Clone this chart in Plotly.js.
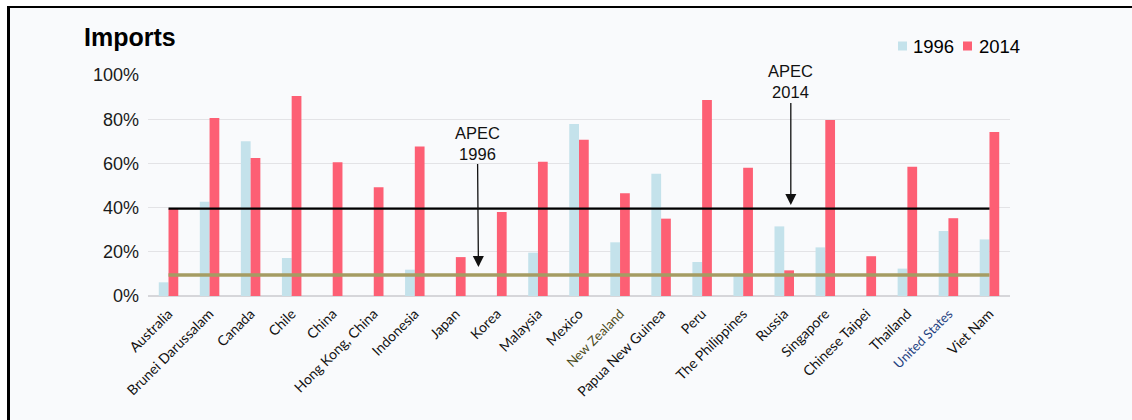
<!DOCTYPE html>
<html>
<head>
<meta charset="utf-8">
<script src="https://cdn.plot.ly/plotly-3.0.1.min.js"></script>
<style>
  html, body { margin: 0; padding: 0; background: #ffffff; }
  body { width: 1132px; height: 420px; position: relative; overflow: hidden; }
  #frame {
    position: absolute; left: 7px; top: 6px; width: 1125px; height: 414px;
    border-top: 2px solid #000; border-left: 3px solid #000;
    background: #f9fafc; box-sizing: border-box;
  }
  #chart { position: absolute; left: 0; top: 0; width: 1132px; height: 420px; }
</style>
</head>
<body>
<div id="frame"></div>
<div id="chart"></div>
<script>
// Share of imports by economy, 1996 vs 2014 (%)
const economies = [
  "Australia", "Brunei Darussalam", "Canada", "Chile", "China", "Hong Kong, China",
  "Indonesia", "Japan", "Korea", "Malaysia", "Mexico", "New Zealand",
  "Papua New Guinea", "Peru", "The Philippines", "Russia", "Singapore",
  "Chinese Taipei", "Thailand", "United States", "Viet Nam"
];
const imports1996 = [6.2, 42.7, 70.0, 17.2, 0, 0, 11.9, 0, 0, 19.6, 77.8, 24.3,
                     55.3, 15.4, 9.0, 31.5, 22.0, 0, 12.4, 29.4, 25.6];
const imports2014 = [39.5, 80.5, 62.4, 90.5, 60.5, 49.2, 67.7, 17.6, 38.0, 60.8, 70.7, 46.5,
                     35.0, 88.7, 58.0, 11.6, 79.6, 18.0, 58.5, 35.2, 74.2];
const apecAverage = { y1996: 9.5, y2014: 39.5 };
const yTicks = [0, 20, 40, 60, 80, 100];
const yTickLabels = ["0%", "20%", "40%", "60%", "80%", "100%"];

const c1996 = "#c4e2eb";
const c2014 = "#fd5f74";

// Economies whose axis labels use their own colour
const labelColours = { "New Zealand": "#4b4a20", "United States": "#1f4180" };
const tickText = economies.map(e =>
  labelColours[e] ? `<span style="color:${labelColours[e]};font-size:13px">${e}</span>` : e);

const ends = [economies[0], economies[economies.length - 1]];

const traces = [
  { type: "bar", name: "1996", x: economies, y: imports1996,
    marker: { color: c1996 }, showlegend: false, hoverinfo: "x+y+name" },
  { type: "bar", name: "2014", x: economies, y: imports2014,
    marker: { color: c2014 }, showlegend: false, hoverinfo: "x+y+name" },
  { type: "scatter", mode: "lines", name: "APEC 1996", x: ends,
    y: [apecAverage.y1996, apecAverage.y1996],
    line: { color: "#a59c63", width: 3.5 }, showlegend: false },
  { type: "scatter", mode: "lines", name: "APEC 2014", x: ends,
    y: [apecAverage.y2014, apecAverage.y2014],
    line: { color: "#000000", width: 2.2 }, showlegend: false }
];

const W = 1132;
const annoFont = { family: "Liberation Sans, Arial, sans-serif", size: 16.5, color: "#111" };

const layout = {
  width: W, height: 420,
  margin: { l: 148, r: 122, t: 75, b: 124 },
  paper_bgcolor: "rgba(0,0,0,0)",
  plot_bgcolor: "rgba(0,0,0,0)",
  barmode: "group",
  bargap: 0.525,
  bargroupgap: 0,
  showlegend: false,
  font: { family: "Liberation Sans, Arial, sans-serif", color: "#111" },
  title: {
    text: "<b>Imports</b>",
    font: { family: "Liberation Sans, Arial, sans-serif", size: 25, color: "#000" },
    x: 84 / W, xanchor: "left", xref: "container",
    y: 1 - 37 / 420, yanchor: "middle", yref: "container"
  },
  xaxis: {
    type: "category",
    tickmode: "array", tickvals: economies, ticktext: tickText,
    tickangle: -45,
    tickfont: { family: "Lato, sans-serif", size: 14, color: "#111" },
    showgrid: false, zeroline: false, showline: false, ticks: "",
    ticklabelstandoff: 6,
    fixedrange: true
  },
  yaxis: {
    range: [0, 100],
    tickmode: "array", tickvals: yTicks, ticktext: yTickLabels,
    tickfont: { family: "Liberation Sans, Arial, sans-serif", size: 18, color: "#1a1a1a" },
    showgrid: true, gridcolor: "#e3e3e6", gridwidth: 1,
    zeroline: true, zerolinecolor: "#d6d6da", zerolinewidth: 1.5,
    showline: false, ticks: "", ticklabelstandoff: 8,
    fixedrange: true
  },
  annotations: [
    { x: 7.55, y: 13.1, xref: "x", yref: "y", text: "APEC<br>1996",
      showarrow: true, arrowhead: 2, arrowsize: 1.7, arrowwidth: 1.3, arrowcolor: "#111",
      ax: -1, ay: -124, font: annoFont, align: "center" },
    { x: 15.16, y: 41.2, xref: "x", yref: "y", text: "APEC<br>2014",
      showarrow: true, arrowhead: 2, arrowsize: 1.7, arrowwidth: 1.3, arrowcolor: "#111",
      ax: 0, ay: -123, font: annoFont, align: "center" },
    // key
    { x: 911 / W, y: 1 - 46 / 420, xref: "paper", yref: "paper", text: "1996",
      showarrow: false, xanchor: "left", yanchor: "middle",
      font: { family: "Liberation Sans, Arial, sans-serif", size: 18.5, color: "#000" } },
    { x: 977 / W, y: 1 - 46 / 420, xref: "paper", yref: "paper", text: "2014",
      showarrow: false, xanchor: "left", yanchor: "middle",
      font: { family: "Liberation Sans, Arial, sans-serif", size: 18.5, color: "#000" } }
  ],
  shapes: []
};

// paper coords here refer to the plot area; convert page pixels into them
const plotL = 148, plotR = W - 122, plotT = 75, plotB = 420 - 124;
const px = x => (x - plotL) / (plotR - plotL);
const py = y => (plotB - y) / (plotB - plotT);
layout.annotations.slice(2).forEach(a => {
  a.x = px(a.x * W);
  a.y = py((1 - a.y) * 420);
});
layout.shapes.push(
  { type: "rect", xref: "paper", yref: "paper", x0: px(898), x1: px(907), y0: py(50.5), y1: py(41.5),
    fillcolor: c1996, line: { width: 0 } },
  { type: "rect", xref: "paper", yref: "paper", x0: px(963), x1: px(972), y0: py(50.5), y1: py(41.5),
    fillcolor: c2014, line: { width: 0 } }
);

Plotly.newPlot("chart", traces, layout, { displayModeBar: false, staticPlot: true });
</script>
</body>
</html>
